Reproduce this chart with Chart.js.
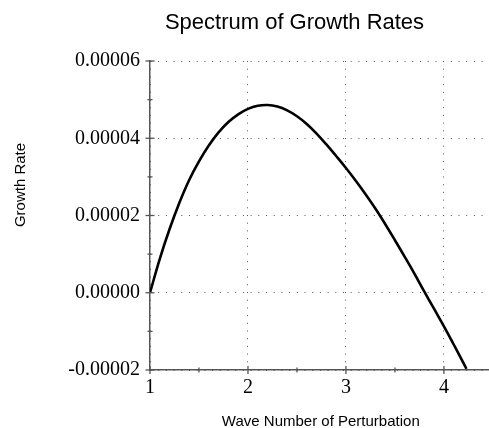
<!DOCTYPE html>
<html>
<head>
<meta charset="utf-8">
<script src="https://cdn.jsdelivr.net/npm/chart.js@4"></script>
<style>
  body { margin: 0; background: #fff; }
</style>
</head>
<body>
<canvas id="myChart" width="489" height="428"></canvas>
<script>
const TITLE  = "Spectrum of Growth Rates";
const X_NAME = "Wave Number of Perturbation";
const Y_NAME = "Growth Rate";

const waveNumbers = [1.0, 1.1, 1.2, 1.3, 1.4, 1.5, 1.6, 1.7, 1.8, 1.9,
                     2.0, 2.1, 2.2, 2.3, 2.4, 2.5, 2.6, 2.7, 2.8, 2.9,
                     3.0, 3.1, 3.2, 3.3, 3.4, 3.5, 3.6, 3.7, 3.8, 3.9,
                     4.0, 4.1, 4.2, 4.23];
const growthRates = [0, 8.8e-6, 16.5e-6, 23.3e-6, 29.2e-6, 34.0e-6, 38.1e-6, 41.5e-6, 44.2e-6, 46.2e-6,
                     47.6e-6, 48.4e-6, 48.6e-6, 48.2e-6, 47.2e-6, 45.7e-6, 43.7e-6, 41.2e-6, 38.4e-6, 35.4e-6,
                     32.3e-6, 29.0e-6, 25.5e-6, 21.8e-6, 17.8e-6, 13.6e-6, 9.3e-6, 4.9e-6, 0.3e-6, -4.2e-6,
                     -8.7e-6, -13.4e-6, -18.2e-6, -19.7e-6];

const xTicks = [1, 1.5, 2, 2.5, 3, 3.5, 4];
const yTicks = [-0.00002, -0.00001, 0, 0.00001, 0.00002, 0.00003, 0.00004, 0.00005, 0.00006];

const SERIF = "'Liberation Serif', 'Times New Roman', serif";
const SANS  = "'Liberation Sans', Arial, sans-serif";

function isMajorX (v) { return Math.abs(v - Math.round(v)) < 1e-9; }
function isMajorY (v) { return Math.round(v * 1e5) % 2 === 0; }

// titles and the little tick marks that cross the axes
const decorations = {
  id: "decorations",
  afterDraw (chart) {
    let ctx = chart.ctx;
    let x = chart.scales.x;
    let y = chart.scales.y;
    let area = chart.chartArea;

    ctx.save();
    ctx.strokeStyle = "#555";
    ctx.lineWidth = 1.3;
    x.ticks.forEach((t) => {
      let px = x.getPixelForValue(t.value);
      let len = isMajorX(t.value) ? 4 : 2.5;
      ctx.beginPath();
      ctx.moveTo(px, area.bottom - len);
      ctx.lineTo(px, area.bottom + len);
      ctx.stroke();
    });
    y.ticks.forEach((t) => {
      let py = y.getPixelForValue(t.value);
      let len = isMajorY(t.value) ? 4.5 : 2.5;
      ctx.beginPath();
      ctx.moveTo(area.left - len, py);
      ctx.lineTo(area.left + len, py);
      ctx.stroke();
    });

    ctx.fillStyle = "#000";
    ctx.textAlign = "center";
    ctx.textBaseline = "alphabetic";
    ctx.font = "22px " + SANS;
    ctx.fillText(TITLE, 294.5, 29);

    ctx.font = "15px " + SANS;
    ctx.fillText(X_NAME, 320.8, 426);

    ctx.translate(25, 185);
    ctx.rotate(-Math.PI / 2);
    ctx.fillText(Y_NAME, 0, 0);
    ctx.restore();
  }
};

window.addEventListener("load", () => {
  drawChart();
});

function drawChart () {
  let data = waveNumbers.map((w, i) => ({ x: w, y: growthRates[i] }));
  let ctx  = document.getElementById("myChart");

  new Chart(ctx, {
    type: "line",
    data: {
      datasets: [{
        label: Y_NAME,
        data: data,
        borderColor: "#000",
        borderWidth: 2.6,
        pointRadius: 0,
        fill: false,
        tension: 0.4
      }]
    },
    options: {
      responsive: false,
      animation: false,
      layout: { padding: { top: 61, right: 0, bottom: 0, left: 0 } },
      plugins: {
        legend: { display: false },
        title: { display: false },
        tooltip: { enabled: false }
      },
      scales: {
        x: {
          type: "linear",
          min: 1,
          max: 4.46,
          afterBuildTicks: (scale) => { scale.ticks = xTicks.map((v) => ({ value: v })); },
          afterFit: (scale) => { scale.height = 58; },
          grid: {
            drawTicks: false,
            lineWidth: 1,
            color: (c) => (c.tick && isMajorX(c.tick.value)) ? "#555" : "rgba(0,0,0,0)"
          },
          border: { display: true, color: "#555", width: 1.5, dash: [1, 6.7] },
          ticks: {
            padding: 6,
            color: "#000",
            font: { family: SERIF, size: 20 },
            maxRotation: 0,
            autoSkip: false,
            callback: (v) => isMajorX(v) ? String(Math.round(v)) : ""
          }
        },
        y: {
          type: "linear",
          min: -0.00002,
          max: 0.00006,
          afterBuildTicks: (scale) => { scale.ticks = yTicks.map((v) => ({ value: v })); },
          afterFit: (scale) => { scale.width = 150; },
          grid: {
            drawTicks: false,
            lineWidth: 1,
            color: (c) => (c.tick && isMajorY(c.tick.value)) ? "#555" : "rgba(0,0,0,0)"
          },
          border: { display: true, color: "#555", width: 1.5, dash: [1, 6.7] },
          ticks: {
            padding: 10,
            color: "#000",
            font: { family: SERIF, size: 20 },
            autoSkip: false,
            callback: (v) => isMajorY(v) ? v.toFixed(5) : ""
          }
        }
      }
    },
    plugins: [decorations]
  });
}
</script>
</body>
</html>
